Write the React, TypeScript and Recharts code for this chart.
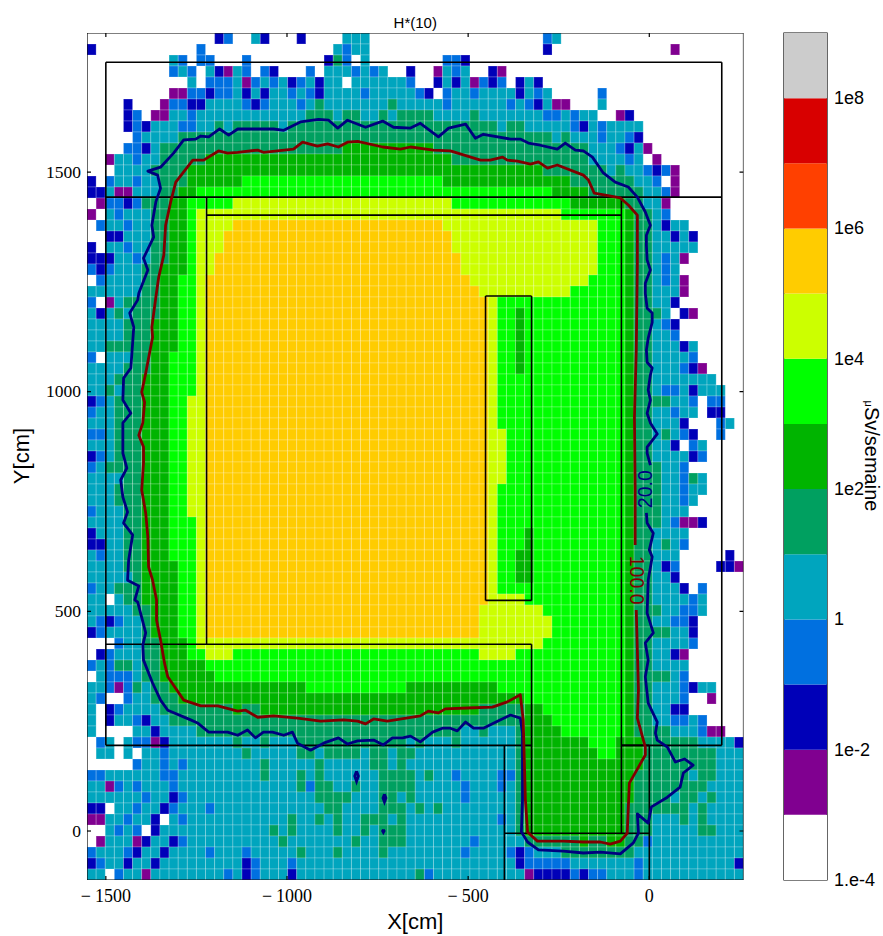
import React from "react";
import { ScatterChart, Scatter, XAxis, YAxis, ReferenceArea, BarChart, Bar } from "recharts";

// ---------- Axes ----------
const X_DOMAIN: [number, number] = [-1552, 260];
const Y_DOMAIN: [number, number] = [-111.5, 1816.5];
const X_TICKS = [-1500, -1000, -500, 0];
const Y_TICKS = [0, 500, 1000, 1500];
const COLS = 72;

// ---------- Colour levels (bottom of the colour bar to top) ----------
const LEVEL_KEYS = [".", "p", "d", "b", "t", "s", "g", "l", "y", "o", "f", "r", "n"];
const LEVEL_COLORS = ["#ffffff", "#800090", "#0000b8", "#0070e0", "#00a5be", "#00a060", "#00b400", "#00ff00", "#ccff00", "#ffcc00", "#ff4000", "#d80000", "#cccccc"];
const BAR_TICKS = [0, 2, 4, 6, 8, 10, 12];
const BAR_TICK_LABELS = ["1.e-4", "1e-2", "1", "1e2", "1e4", "1e6", "1e8"];

// ---------- Map of dose levels: each row lists "start column + level" ----------
const rowsTop = [
  "14d 15b 16. 18t 19d 20. 23d 24. 28t 31. 50b 51t 52.",
  "0d 1. 12b 13. 27t 28b 29t 31. 50d 51. 64p 65.",
  "9t 10b 11. 12b 14. 17b 18. 26d 27s 28b 29. 30t 31. 39b 41d 42.",
  "9b 10t 11b 12. 13t 14d 15p 16t 17b 18. 19b 20d 21. 24b 25. 26t 29b 30t 31b 32t 33. 35d 36. 38p 39t 40b 41t 42. 44d 45p 46.",
  "11t 12. 13b 16t 17p 18b 19t 20b 21t 22d 23b 24t 25d 26t 28. 29t 35b 36. 38d 39t 40d 41t 42p 43b 44d 45b 46. 47d 48t 49d 50.",
  "9p 11b 13d 14b 16t 17d 18t 19d 20t 22b 23t 24b 25d 26t 30b 31t 36b 37d 38. 39b 40t 42b 43t 47d 48t 49b 50t 51. 56b 57.",
  "4d 5. 8p 9b 11d 13t 17b 18d 19b 20t 23b 24t 25s 26t 33s 34t 39b 40t 46b 47t 48b 49d 50t 51p 53. 56t 57.",
  "4d 5b 6. 7p 9t 11b 12t 24s 27t 28s 30t 32s 33t 34s 38t 42s 43t 50b 52t 53b 54t 56. 58p 59d 60.",
  "4d 5b 6d 7t 10b 12t 14s 15t 16s 21t 22s 45t 46s 48t 53b 54d 55t 56b 57t 61.",
  "5b 6t 10s 51t 52s 53t 56b 57t 59b 60d 61.",
  "4b 6d 7t 8s 28g 38s 55t 58b 59d 60t 61p 62.",
  "2p 3t 5b 6t 8s 13g 40s 55t 59b 60t 61. 62p 63.",
  "3t 7s 11g 50s 57t 58s 59t 61b 62d 63b 64p 65.",
  "0d 1. 2b 3t 5b 6t 8s 11g 17l 39g 53s 60t 62b 63. 64p 65.",
  "0d 2t 3p 5t 8s 10g 12l 51g 55s 61t 63b 64p 65.",
  "1p 2b 4d 5b 6s 9g 11l 16y 40l 53g 59s 61t 63p 64.",
];
const rowsUpper = [
  "0p 1. 2t 3b 4t 7s 9g 11l 12y 52l 59g 60s 62t 63b 64.",
  "1b 2t 4b 5t 7s 9g 11l 12y 16o 39y 56l 59g 60s 62t 63d 64t 66.",
  "2d 4t 7s 9g 11l 12y 15o 40y 56l 59g 60s 62t 64d 65t 66d 67.",
  "0d 1. 2t 4b 5t 7s 9g 11l 12y 15o 40y 56l 59g 60s 62t 67.",
  "0d 3t 5b 6t 7s 9g 11l 12y 14o 41y 56l 59g 60s 62t 63b 64t 65p 66.",
  "0b 1d 2b 3t 6s 8g 11l 12y 14o 41y 56l 59g 60s 62t 63b 64t 65.",
  "1b 2t 6s 8g 10l 12y 13o 42y 55l 59g 60s 62t 63b 64t 65p 66.",
  "0t 6s 8g 10l 12y 13o 43y 53l 59g 60s 62t 65p 66.",
  "0b 1. 2p 3t 4s 8g 10l 12y 13o 44y 45l 59g 60s 62t 64d 65.",
  "0t 1d 2t 3s 4t 5s 8g 10l 12y 13o 44y 45l 47g 48l 59g 60s 63t 64. 65d 66p 67.",
  "0t 4s 7g 10l 12y 13o 44y 45l 47g 48l 59g 60s 62t 63b 64d 65.",
  "0t 4s 7g 10l 12y 13o 44y 45l 47g 48l 59g 60s 62t 64b 65.",
  "0t 2s 7g 10l 12y 13o 44y 45l 47g 48l 59g 60s 62t 65d 66t 67.",
  "0b 1. 2t 5s 7g 9l 12y 13o 44y 45l 47g 48l 59g 60s 62t 66b 67.",
  "0t 4s 7g 9l 12y 13o 44y 45l 47g 48l 59g 60s 62t 65b 66d 67p 68.",
  "0t 3s 6g 9l 12y 13o 44y 45l 59g 60s 62t 69.",
  "0t 2s 3t 4s 6g 9l 12y 13o 44y 45l 59g 60s 62t 63b 65t 66d 67t 70.",
  "0d 1b 2t 3s 6g 9l 11y 13o 44y 45l 59g 60s 64t 66b 67. 68b 70.",
  "0b 1t 3s 6g 9l 11y 13o 44y 45l 59g 60s 62t 64b 65t 67. 68d 70.",
  "0t 3s 6g 9l 11y 13o 44y 45l 59g 60s 62t 65d 66. 69b 70t 71.",
];
const rowsMiddle = [
  "0b 2t 3s 6g 9l 11y 13o 44y 46l 59g 60s 62t 63s 64t 65b 66d 67. 69b 70.",
  "0t 3s 6g 9l 11y 13o 44y 46l 59g 60s 62t 64d 65. 66b 67t 68.",
  "0d 1b 2t 3s 6g 9l 11y 13o 44y 46l 59g 60s 62t 66d 67b 68.",
  "0b 1t 2s 6g 9l 11y 13o 44y 46l 59g 60s 63t 65b 66.",
  "0t 4s 6g 9l 11y 13o 44y 46l 59g 60s 63t 65b 66s 67t 68.",
  "0t 3s 6g 9l 11y 13o 44y 45l 59g 60s 63t 65b 66t 68.",
  "0t 3s 6g 9l 11y 13o 44y 45l 59g 60s 63t 65b 66t 67.",
  "0b 1t 4s 6g 9l 11y 13o 44y 45l 59g 60s 63t 66.",
  "0t 4s 6g 9l 12y 13o 44y 45l 59g 60s 63t 64b 65p 67d 68.",
  "0d 1t 4s 6g 9l 12y 13o 44y 45l 48g 49l 59g 60s 62t 66.",
  "0d 2t 4s 6g 9l 12y 13o 44y 45l 48g 49l 59g 60s 62t 63s 64t 65b 66.",
  "0t 1b 2t 4s 6g 9l 12y 13o 44y 45l 47g 49l 59g 60s 62t 65. 70d 71.",
  "0t 4s 6g 10l 12y 13o 44y 45l 47g 49l 59g 60s 62t 63d 64b 65. 69d 71p",
  "0t 5s 6g 10l 12y 13o 44y 45l 47g 49l 59g 60s 62t 64d 65.",
  "0b 1t 3s 6g 10l 12y 13o 44y 45l 59g 60s 62t 65d 66. 67b 68.",
  "0t 2. 3t 4s 6g 10l 12y 13o 44y 48l 59g 60s 62t 66b 67t 68.",
  "0t 5s 7g 10l 12y 13o 43y 50l 59g 60s 63t 65b 67t 68.",
  "0t 1b 2d 3b 4t 6s 7g 10l 12y 13o 43y 51l 59g 60s 62t 64b 66d 67.",
  "0d 1b 2t 6s 7g 10l 12y 13o 43y 51l 59g 60s 64t 66d 67.",
  "3b 4t 6s 8g 11l 12y 50l 59g 60s 62t 66b 67.",
];
const rowsLower = [
  "1d 2b 3t 6s 8g 11l 13y 16l 43y 47l 59g 60s 62t 64d 65p 66.",
  "0b 1t 2b 3s 5t 6s 8g 13l 59g 60s 62t 66.",
  "1t 2b 5t 6s 8g 14l 59g 60s 64t 65b 66.",
  "0t 2b 3p 4b 5s 6t 7s 9g 24l 35g 45l 59g 60s 62t 65b 66d 67t 69.",
  "0t 1b 2. 4b 5t 7s 10g 48l 59g 60s 62t 65b 66. 68p 69.",
  "0t 1. 2d 3b 4t 8s 16g 17s 19g 43s 48g 50l 59g 60s 62t 64d 66.",
  "0t 1. 2d 3t 5b 6d 7t 9s 48g 51l 59g 60s 62t 64b 66t 67b 68.",
  "0t 1. 5t 7d 8t 12s 41t 43s 44t 47s 48g 52l 59g 60s 64t 67b 68p 70.",
  "1b 2t 3. 4t 5b 7p 8d 9t 16s 17t 19s 20t 23s 35t 36s 37t 40s 41t 47s 48g 55l 58g 61s 67t 71d",
  "1t 3. 4t 5. 6t 8b 9t 17s 18t 23s 25t 26s 30t 31s 33t 34s 36t 47s 48g 56l 58g 61s 69t",
  "5b 6t 8b 9t 10b 11t 19s 20t 25s 26t 31s 33t 34s 35t 47s 48g 61s 69t",
];
const rowsBottom = [
  "0b 2t 8b 10t 19s 20t 23s 24t 25s 26t 32s 36t 37s 38t 40b 41t 45b 47s 48g 60s 66t 67s 69t",
  "0t 2p 3b 4t 5b 6t 9b 10t 23s 24b 25s 27t 29s 30t 32s 36t 41b 42t 45b 46t 47s 48g 60s 68t",
  "0t 6b 7t 9d 10b 11t 25s 29t 32s 34t 35s 36t 41b 42t 47s 48g 60s 64t 65s 67t 68s 69t",
  "0d 2. 3t 5b 6t 8d 9b 10t 13b 14t 26s 28t 32s 35t 36s 37t 38s 39t 47s 48g 59s 66t 67s 68t",
  "0p 2t 4b 5t 7d 8. 9t 10b 11t 22s 23t 25s 26t 27s 28t 30s 33t 34s 35t 45b 46t 47s 48g 59s 62t 65s 66t 67s 68t",
  "2t 3b 4t 5b 6. 7d 8t 20s 21t 22s 23t 27s 28t 30s 31t 32s 35t 47s 48g 59s 62t 67s 69t",
  "1p 2t 5p 6d 7t 9d 10b 11t 21s 22t 29s 30t 32s 35t 42b 43t 48s 54g 55s 57g 59s 61b 62t",
  "0b 1t 4b 5d 6t 8d 9t 13b 14t 17b 18t 23s 24t 27s 28t 32s 33t 41b 42t 46b 47d 48b 49t 52s 60t",
  "0d 1b 2t 4d 5t 7d 8t 17d 18b 19t 22b 23t 47d 48b 53t 60b 61t 71d",
  "0t 2. 3b 4t 6p 7t 15b 16t 17d 18b 19t 22d 23t 36s 37b 38t 48p 49d 53b 54d 55b 57t 60b 61t",
];
const levelRows = [...rowsTop, ...rowsUpper, ...rowsMiddle, ...rowsLower, ...rowsBottom];

// ---------- Contours, in cm: [x, y] ----------
const contour20: [number, number][] = [
  [3,833],[-6,860],[-6,874],[22,904],[3,929],[-6,951],[3,981],[-3,1004],[3,1038],[8,1054],[-6,1067],[-8,1095],[-3,1122],[8,1158],[8,1179],[-6,1190],[-11,1224],[-11,1247],[3,1277],[-6,1300],[-8,1334],[-8,1356],[3,1379],[-11,1409],[-33,1443],[-58,1466],[-94,1477],[-127,1498],[-157,1534],[-182,1548],[-204,1550],[-232,1566],[-254,1552],[-301,1561],[-334,1566],[-356,1575],[-383,1575],[-458,1586],[-480,1577],[-507,1609],[-554,1600],[-582,1580],[-632,1611],[-659,1600],[-706,1602],[-736,1616],[-783,1602],[-833,1618],[-860,1600],[-885,1618],[-913,1620],[-963,1614],[-1009,1595],[-1037,1598],[-1136,1598],[-1161,1584],[-1186,1598],[-1216,1580],[-1238,1582],[-1252,1575],[-1285,1573],[-1313,1543],[-1349,1511],[-1384,1502],[-1357,1493],[-1349,1463],[-1362,1432],[-1373,1379],[-1368,1352],[-1396,1304],[-1384,1277],[-1409,1224],[-1412,1209],[-1434,1179],[-1423,1147],[-1426,1111],[-1431,1054],[-1451,1031],[-1453,981],[-1431,951],[-1453,929],[-1453,860],[-1442,826],[-1459,799],[-1453,760],[-1440,726],[-1451,701],[-1426,674],[-1437,617],[-1440,571],[-1409,558],[-1420,526],[-1412,521],[-1390,451],[-1398,423],[-1396,389],[-1371,337],[-1349,298],[-1329,275],[-1266,253],[-1247,246],[-1216,225],[-1164,225],[-1136,218],[-1109,230],[-1087,212],[-1065,225],[-1040,225],[-1009,218],[-985,225],[-971,200],[-935,184],[-899,200],[-858,212],[-833,198],[-805,205],[-761,207],[-734,196],[-709,212],[-681,212],[-659,216],[-632,203],[-598,225],[-571,234],[-549,234],[-530,228],[-507,248],[-485,234],[-458,234],[-419,250],[-383,264],[-356,257],[-350,223],[-350,71],[-353,-2],[-336,-25],[-306,-43],[-237,-46],[-182,-50],[-135,-48],[-80,-52],[-44,-27],[-30,-5],[-33,39],[-3,18],[6,55],[50,77],[85,100],[94,132],[121,150],[97,164],[72,157],[50,191],[22,207],[17,223],[22,248],[-3,291],[-11,351],[-3,389],[-11,428],[11,451],[-6,496],[-3,571],[8,624],[0,640],[11,678],[-6,701],[-8,724],
];
const contour20Island1: [number, number][] = [[-808,136],[-803,125],[-808,113],[-813,125],[-808,136]];
const contour20Island2: [number, number][] = [[-731,84],[-727,75],[-731,66],[-735,75],[-731,84]];
const contour20Island3: [number, number][] = [[-734,3],[-732,0],[-734,-3],[-736,0],[-734,3]];
const contour100: [number, number][] = [
  [-39,651],[-39,776],[-41,942],[-36,1095],[-33,1288],[-33,1402],[-58,1425],[-80,1441],[-152,1452],[-168,1482],[-182,1493],[-254,1516],[-281,1509],[-306,1523],[-328,1518],[-364,1525],[-392,1527],[-405,1534],[-439,1527],[-466,1527],[-549,1548],[-596,1550],[-659,1557],[-687,1552],[-736,1557],[-805,1570],[-833,1568],[-858,1557],[-888,1564],[-916,1559],[-957,1568],[-982,1552],[-1065,1545],[-1081,1550],[-1136,1545],[-1164,1543],[-1189,1548],[-1230,1527],[-1260,1527],[-1307,1477],[-1321,1432],[-1335,1379],[-1340,1311],[-1354,1261],[-1362,1215],[-1373,1147],[-1371,1124],[-1390,1042],[-1401,999],[-1393,976],[-1398,929],[-1409,901],[-1396,874],[-1396,838],[-1401,776],[-1390,724],[-1384,669],[-1382,601],[-1371,571],[-1360,526],[-1360,480],[-1349,435],[-1338,382],[-1329,351],[-1285,298],[-1238,285],[-1191,285],[-1136,273],[-1114,275],[-1081,259],[-1037,262],[-971,257],[-907,250],[-844,253],[-805,250],[-783,244],[-761,255],[-723,250],[-632,262],[-610,273],[-582,269],[-563,278],[-502,280],[-433,282],[-392,294],[-356,310],[-348,253],[-342,71],[-336,-2],[-309,-23],[-237,-23],[-182,-25],[-135,-25],[-108,-30],[-80,-23],[-61,-5],[-55,109],[-11,173],[-11,191],[-33,257],[-30,321],[-33,412],[-36,503],
];
const contourLabels = [
  { x: -11, y: 778, text: "20.0", color: "#000080", angle: -90 },
  { x: -33, y: 571, text: "100.0", color: "#800000", angle: 90 },
];

// ---------- Walls, in cm: [x1, y1, x2, y2] ----------
const walls = [
  [-1500, 1750, 200, 1750], [-1500, 1750, -1500, 195], [200, 1750, 200, 195],
  [-1500, 1443, 200, 1443], [-1500, 195, -325, 195], [-77, 195, 200, 195],
  [-1222, 1443, -1222, 425], [-1222, 1402, -77, 1402], [-1500, 425, -325, 425],
  [-325, 425, -325, -5], [-77, 1443, -77, -5], [-400, 195, -400, -111.5],
  [-400, -5, 0, -5], [0, 195, 0, -111.5], [-77, 195, 0, 195],
  [-452, 1218, -325, 1218], [-452, 525, -325, 525], [-452, 1218, -452, 525], [-325, 1218, -325, 525],
];

// ---------- Layout ----------
const WIDTH = 883, HEIGHT = 936;
const PLOT = { left: 87, top: 33, right: 743.5, bottom: 880 };
const PLOT_W = PLOT.right - PLOT.left;
const PLOT_H = PLOT.bottom - PLOT.top;
const CELL_W = PLOT_W / COLS;
const CELL_H = PLOT_H / levelRows.length;
const BAR_LEFT = 775;
const BAR_RIGHT = 827 - BAR_LEFT;
const SERIF = "'Liberation Serif', serif";
const SANS = "'Liberation Sans', sans-serif";

const colorOf = (key: string) => LEVEL_COLORS[LEVEL_KEYS.indexOf(key)];

function buildCells() {
  const cw = (X_DOMAIN[1] - X_DOMAIN[0]) / COLS;
  const ch = (Y_DOMAIN[1] - Y_DOMAIN[0]) / levelRows.length;
  const cells: { x: number; y: number; fill: string }[] = [];
  levelRows.forEach((row, j) => {
    const tokens = row.trim().split(/\s+/).map((t) => ({ col: parseInt(t, 10), key: t.slice(-1) }));
    tokens.forEach((tok, k) => {
      if (tok.key === ".") return;
      const end = k + 1 < tokens.length ? tokens[k + 1].col : COLS;
      for (let i = tok.col; i < end; i++) {
        cells.push({ x: X_DOMAIN[0] + (i + 0.5) * cw, y: Y_DOMAIN[1] - (j + 0.5) * ch, fill: colorOf(tok.key) });
      }
    });
  });
  return cells;
}
const cells = buildCells();
const toPoints = (pts: [number, number][]) => pts.map(([x, y]) => ({ x, y }));

// Frame of the plot and tick marks pointing inward, built from the axis arrays.
const [xa, xb] = X_DOMAIN;
const [ya, yb] = Y_DOMAIN;
const xTickLen = 11;
const yTickLen = 9;
const frameSegments = [
  [xa, ya, xb, ya], [xb, ya, xb, yb], [xb, yb, xa, yb], [xa, yb, xa, ya],
  ...X_TICKS.flatMap((t) => [[t, ya, t, ya + yTickLen], [t, yb, t, yb - yTickLen]]),
  ...Y_TICKS.flatMap((t) => [[xa, t, xa + xTickLen, t], [xb, t, xb - xTickLen, t]]),
];
const segPoints = ([x1, y1, x2, y2]: number[]) => [{ x: x1, y: y1 }, { x: x2, y: y2 }];

const CellShape = (props: any) => (
  <rect
    x={props.cx - CELL_W / 2}
    y={props.cy - CELL_H / 2}
    width={CELL_W}
    height={CELL_H}
    fill={props.payload.fill}
    stroke="#ffffff"
    strokeOpacity={0.22}
    strokeWidth={1}
  />
);
const NoMark = () => <g />;
const LabelShape = (props: any) => (
  <text
    x={props.cx}
    y={props.cy}
    textAnchor="middle"
    dominantBaseline="central"
    transform={`rotate(${props.payload.angle} ${props.cx} ${props.cy})`}
    fontFamily={SANS}
    fontSize={19.5}
    fill={props.payload.color}
  >
    {props.payload.text}
  </text>
);

const XTick = (props: any) => {
  const { x, payload } = props;
  const v = payload.value as number;
  return (
    <text x={x} y={PLOT.bottom + 22} textAnchor="middle" fontFamily={SERIF} fontSize={18} fill="#000">
      {v < 0 ? <tspan>{"\u2212"}</tspan> : null}
      <tspan dx={v < 0 ? 4 : 0}>{Math.abs(v)}</tspan>
    </text>
  );
};
const YTick = (props: any) => {
  const { y, payload } = props;
  return (
    <text x={PLOT.left - 6} y={y + 5.5} textAnchor="end" fontFamily={SERIF} fontSize={17.5} fill="#000">
      {payload.value}
    </text>
  );
};
const BarTick = (props: any) => {
  const { y, payload } = props;
  const idx = BAR_TICKS.indexOf(payload.value);
  return (
    <text x={BAR_RIGHT + 7} y={y + 6} fontFamily={SANS} fontSize={18} fill="#000">
      {BAR_TICK_LABELS[idx]}
    </text>
  );
};

const barData = [Object.fromEntries(LEVEL_KEYS.map((_, i) => [`level${i}`, 1]))];

export default function App() {
  return (
    <div style={{ position: "absolute", left: 0, top: 0, width: WIDTH, height: HEIGHT, background: "#fff" }}>
      <div style={{ position: "absolute", left: 0, top: 0 }}>
        <ScatterChart
          width={775}
          height={HEIGHT}
          margin={{ left: PLOT.left - 60, top: PLOT.top, right: 775 - PLOT.right, bottom: HEIGHT - PLOT.bottom - 40 }}
        >
          <XAxis type="number" dataKey="x" domain={X_DOMAIN} ticks={X_TICKS} height={40} axisLine={false} tickLine={false} tick={<XTick />} allowDataOverflow interval={0} />
          <YAxis type="number" dataKey="y" domain={Y_DOMAIN} ticks={Y_TICKS} width={60} axisLine={false} tickLine={false} tick={<YTick />} allowDataOverflow interval={0} />
          <Scatter data={cells} shape={<CellShape />} isAnimationActive={false} />
          {walls.map((seg, i) => (
            <Scatter key={`w${i}`} data={segPoints(seg)} line={{ stroke: "#000", strokeWidth: 1.6 }} shape={<NoMark />} isAnimationActive={false} />
          ))}
          <Scatter data={toPoints(contour20)} line={{ stroke: "#000080", strokeWidth: 2.8, strokeLinejoin: "round" }} shape={<NoMark />} isAnimationActive={false} />
          <Scatter data={toPoints(contour20Island1)} line={{ stroke: "#000080", strokeWidth: 2.8 }} shape={<NoMark />} isAnimationActive={false} />
          <Scatter data={toPoints(contour20Island2)} line={{ stroke: "#000080", strokeWidth: 2.8 }} shape={<NoMark />} isAnimationActive={false} />
          <Scatter data={toPoints(contour20Island3)} line={{ stroke: "#000080", strokeWidth: 2.8 }} shape={<NoMark />} isAnimationActive={false} />
          <Scatter data={toPoints(contour100)} line={{ stroke: "#800000", strokeWidth: 2.8, strokeLinejoin: "round" }} shape={<NoMark />} isAnimationActive={false} />
          <Scatter data={contourLabels} shape={<LabelShape />} isAnimationActive={false} />
          {frameSegments.map((seg, i) => (
            <Scatter key={`f${i}`} data={segPoints(seg)} line={{ stroke: "#000", strokeWidth: 1.2 }} shape={<NoMark />} isAnimationActive={false} />
          ))}
          <text x={(PLOT.left + PLOT.right) / 2} y={28} textAnchor="middle" fontFamily={SANS} fontSize={15} fill="#000">H*(10)</text>
          <text x={(PLOT.left + PLOT.right) / 2} y={929} textAnchor="middle" fontFamily={SANS} fontSize={22} fill="#000">X[cm]</text>
          <text x={29} y={456} textAnchor="middle" transform="rotate(-90 29 456)" fontFamily={SANS} fontSize={22} fill="#000">Y[cm]</text>
        </ScatterChart>
      </div>
      <div style={{ position: "absolute", left: BAR_LEFT, top: 0 }}>
        <BarChart
          width={108}
          height={HEIGHT}
          data={barData}
          margin={{ left: 9, top: PLOT.top, right: 0, bottom: HEIGHT - PLOT.bottom }}
          barCategoryGap={0}
          barGap={0}
        >
          <XAxis hide />
          <YAxis orientation="right" type="number" domain={[0, LEVEL_KEYS.length]} ticks={BAR_TICKS} width={56} axisLine={false} tickLine={false} tick={<BarTick />} interval={0} />
          {LEVEL_KEYS.map((_, i) => (
            <Bar key={i} dataKey={`level${i}`} stackId="band" fill={LEVEL_COLORS[i]} isAnimationActive={false} />
          ))}
          <ReferenceArea y1={0} y2={LEVEL_KEYS.length} fill="none" stroke="#000" strokeWidth={1.2} />
          <text x={90} y={456} textAnchor="middle" transform="rotate(90 90 456)" fontFamily={SANS} fontSize={20} fill="#000">
            <tspan fontSize={11}>{"\u03bc"}</tspan>Sv/semaine
          </text>
        </BarChart>
      </div>
    </div>
  );
}
